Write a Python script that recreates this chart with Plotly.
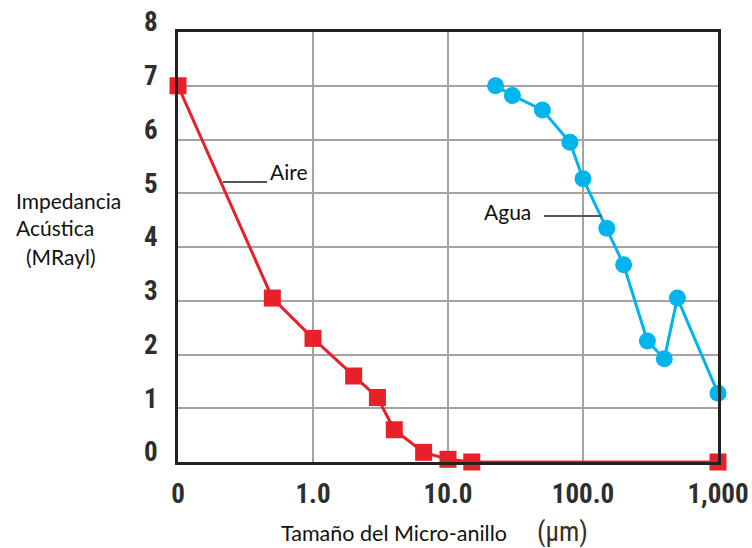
import plotly.graph_objects as go

# Data (x in µm on log axis; "0" tick shown at 0.1)
aire_x = [0.1, 0.5, 1.0, 2.0, 3.0, 4.0, 6.6, 10.0, 15.0, 1000.0]
aire_y = [7.0, 3.05, 2.3, 1.6, 1.2, 0.6, 0.18, 0.05, 0.0, 0.0]
agua_x = [22.5, 30, 50, 80, 100, 150, 200, 300, 400, 500, 1000]
agua_y = [7.0, 6.82, 6.55, 5.95, 5.27, 4.35, 3.67, 2.25, 1.92, 3.05, 1.28]

x_tickvals = [0.1, 1, 10, 100, 1000]
x_ticktext = ["0", "1.0", "10.0", "100.0", "1,000"]
y_tickvals = [0, 1, 2, 3, 4, 5, 6, 7, 8]

L, R, T, B = 178, 718, 32, 462
W, H = 752, 548

def px(x):
    return (x - L) / (R - L)

def py(y):
    return (B - y) / (B - T)

tickfont = dict(family="Roboto Condensed, Liberation Sans Narrow", size=27,
                color="#2e2e2e", weight="bold")

fig = go.Figure()
fig.add_trace(go.Scatter(x=aire_x, y=aire_y, mode="lines+markers",
                         line=dict(color="#E8202A", width=3),
                         marker=dict(symbol="square", size=17, color="#E8202A"),
                         cliponaxis=False, showlegend=False))
fig.add_trace(go.Scatter(x=agua_x, y=agua_y, mode="lines+markers",
                         line=dict(color="#00B4EC", width=3),
                         marker=dict(symbol="circle", size=17, color="#00B4EC"),
                         cliponaxis=False, showlegend=False))

fig.update_xaxes(type="log", range=[-1, 3], tickvals=x_tickvals, ticktext=x_ticktext,
                 showgrid=True, gridcolor="#a3a3a3", gridwidth=2,
                 showline=True, linecolor="#222", linewidth=3, mirror=True,
                 ticks="", tickfont=tickfont, zeroline=False, ticklabelstandoff=6,
                 ticklabeloverflow="allow", automargin=False)
fig.update_yaxes(range=[0, 8], tickvals=y_tickvals,
                 showgrid=True, gridcolor="#a3a3a3", gridwidth=2,
                 showline=True, linecolor="#222", linewidth=3, mirror=True,
                 ticks="", tickfont=tickfont, zeroline=False,
                 ticklabelshift=-10, ticklabelstandoff=12, ticklabeloverflow="allow",
                 automargin=False)

txtfont = dict(family="Lato, Carlito, Liberation Sans", size=21, color="#111")

annotations = [
    dict(x=px(268), y=py(171), xref="paper", yref="paper", text="Aire", showarrow=False,
         xanchor="left", yanchor="middle", font=txtfont),
    dict(x=px(482), y=py(212), xref="paper", yref="paper", text="Agua", showarrow=False,
         xanchor="left", yanchor="middle", font=txtfont),
    dict(x=px(279), y=py(533), xref="paper", yref="paper", text="Tamaño del Micro-anillo",
         showarrow=False, xanchor="left", yanchor="middle",
         font=dict(family="Lato, Carlito, Liberation Sans", size=21.5, color="#111")),
    dict(x=px(535), y=py(532), xref="paper", yref="paper", text="(µm)",
         showarrow=False, xanchor="left", yanchor="middle",
         font=dict(family="Roboto Condensed", size=27, color="#3a3026")),
    dict(x=px(14), y=py(200), xref="paper", yref="paper", text="Impedancia",
         showarrow=False, xanchor="left", yanchor="middle", font=txtfont),
    dict(x=px(14), y=py(228), xref="paper", yref="paper", text="Acústica",
         showarrow=False, xanchor="left", yanchor="middle", font=txtfont),
    dict(x=px(24), y=py(256), xref="paper", yref="paper", text="(MRayl)",
         showarrow=False, xanchor="left", yanchor="middle", font=txtfont),
]

shapes = [
    dict(type="line", xref="paper", yref="paper", x0=px(223), x1=px(267), y0=py(182), y1=py(182),
         line=dict(color="#555", width=2)),
    dict(type="line", xref="paper", yref="paper", x0=px(544), x1=px(602), y0=py(216), y1=py(216),
         line=dict(color="#555", width=2)),
]

fig.update_layout(width=W, height=H, margin=dict(l=L, r=W - R, t=T, b=H - B),
                  paper_bgcolor="white", plot_bgcolor="white",
                  annotations=annotations, shapes=shapes)

fig.write_html("out.html")
